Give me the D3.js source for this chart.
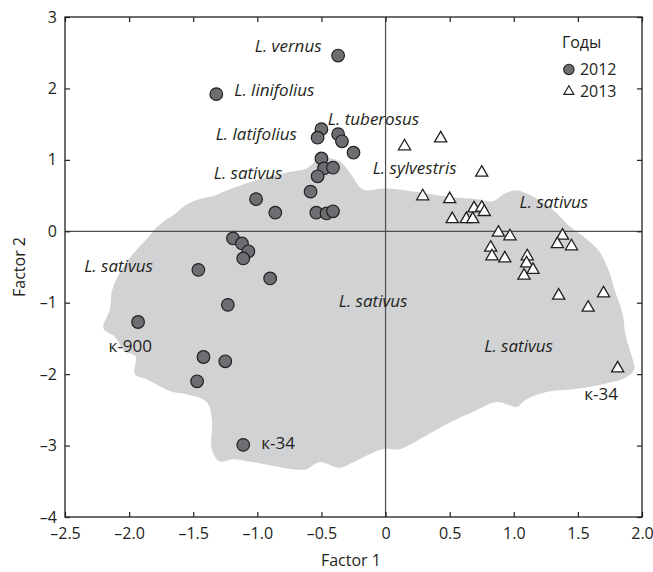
<!DOCTYPE html>
<html>
<head>
<meta charset="utf-8">
<script src="https://cdn.jsdelivr.net/npm/d3@7"></script>
<style>
  body { margin: 0; background: #fff; }
  svg text { font-family: "Open Sans", "Noto Sans", sans-serif; fill: #231f20; }
  .tick line { stroke: #231f20; stroke-width: 1.2; }
  .domain { display: none; }
</style>
</head>
<body>
<div id="chart"></div>
<script>
// 2012 accessions (Factor 1, Factor 2)
var f1_2012 = [-0.37, -1.32, -0.50, -0.53, -0.37, -0.34, -0.25, -0.50, -0.48, -0.41, -0.53, -0.585,
               -0.54, -0.46, -0.41, -1.01, -0.86, -1.19, -1.12, -1.07, -1.11, -1.46, -0.90,
               -1.23, -1.93, -1.42, -1.25, -1.47, -1.11];
var f2_2012 = [2.46, 1.92, 1.43, 1.31, 1.36, 1.26, 1.10, 1.02, 0.88, 0.89, 0.77, 0.555,
               0.26, 0.25, 0.28, 0.45, 0.26, -0.10, -0.17, -0.28, -0.38, -0.54, -0.66,
               -1.03, -1.27, -1.76, -1.82, -2.10, -2.99];

// 2013 accessions
var f1_2013 = [0.148, 0.43, 0.75, 0.29, 0.50, 0.69, 0.75, 0.77, 0.52, 0.63, 0.68, 0.88, 0.97,
               0.82, 0.83, 0.93, 1.38, 1.34, 1.45, 1.105, 1.10, 1.15, 1.08, 1.35, 1.70, 1.58, 1.81];
var f2_2013 = [1.19, 1.30, 0.82, 0.49, 0.45, 0.32, 0.33, 0.27, 0.17, 0.17, 0.17, -0.02, -0.07,
               -0.23, -0.35, -0.38, -0.06, -0.18, -0.21, -0.35, -0.45, -0.54, -0.62, -0.90, -0.87, -1.07, -1.92];

// grey area outline (Factor 1, Factor 2)
var areaF1 = [-0.515, -0.36, -0.26, -0.18, 0.01, 0.265, 0.52, 0.71, 0.835, 0.93, 1.02, 1.145, 1.30, 1.435,
              1.57, 1.67, 1.745, 1.785, 1.85, 1.87, 1.92, 1.94, 1.88, 1.72, 1.51, 1.255, 1.10, 1.02, 0.945,
              0.865, 0.68, 0.475, 0.265, 0.11, -0.025, -0.26, -0.36, -0.515, -0.615, -0.725, -1.04, -1.19,
              -1.295, -1.355, -1.355, -1.395, -1.55, -1.66, -1.865, -1.955, -1.95, -2.035, -2.115, -2.20,
              -2.15, -2.13, -2.02, -1.865, -1.76, -1.645, -1.55, -1.45, -1.35, -1.215, -0.98, -0.75, -0.615];
var areaF2 = [1.02, 0.98, 0.77, 0.59, 0.60, 0.545, 0.475, 0.45, 0.42, 0.53, 0.57, 0.49, 0.31, 0.07,
              -0.11, -0.29, -0.57, -0.81, -1.16, -1.44, -1.75, -1.93, -2.04, -2.13, -2.20, -2.25, -2.35, -2.46, -2.42,
              -2.39, -2.53, -2.70, -2.91, -3.05, -3.05, -3.24, -3.31, -3.23, -3.33, -3.33, -3.23, -3.19,
              -3.22, -3.05, -2.63, -2.39, -2.28, -2.25, -2.07, -2.00, -1.75, -1.68, -1.47, -1.36,
              -1.09, -0.81, -0.43, -0.11, 0.10, 0.24, 0.38, 0.45, 0.49, 0.59, 0.73, 0.83, 0.88];

// annotations: text, Factor 1 (left edge), Factor 2 (middle), italic?
var labelText = ["L. vernus", "L. linifolius", "L. latifolius", "L. sativus", "L. tuberosus", "L. sylvestris",
                 "L. sativus", "L. sativus", "L. sativus", "L. sativus", "к-900", "к-34", "к-34"];
var labelF1 = [-1.02, -1.18, -1.325, -1.34, -0.45, -0.10, 1.045, -2.35, -0.365, 0.77, -2.16, -0.97, 1.55];
var labelF2 = [2.60, 1.98, 1.36, 0.81, 1.57, 0.89, 0.41, -0.485, -0.975, -1.60, -1.60, -2.97, -2.28];
var labelItalic = [1, 1, 1, 1, 1, 1, 1, 1, 1, 1, 0, 0, 0];

var xTicks = [-2.5, -2.0, -1.5, -1.0, -0.5, 0, 0.5, 1.0, 1.5, 2.0];
var yTicks = [-4, -3, -2, -1, 0, 1, 2, 3];
var years = ["2012", "2013"];

var margin = {top: 17, right: 11, bottom: 55, left: 65},
    width = 653 - margin.left - margin.right,
    height = 572 - margin.top - margin.bottom;

var svg = d3.select("#chart").append("svg")
    .attr("width", 653).attr("height", 572)
  .append("g")
    .attr("transform", "translate(" + margin.left + "," + margin.top + ")");

var x = d3.scaleLinear().domain([-2.5, 2.0]).range([0, width]);
var y = d3.scaleLinear().domain([-4, 3]).range([height, 0]);

// grey area
var outline = areaF1.map(function(d, i) { return [d, areaF2[i]]; });
svg.append("path")
    .attr("d", d3.line().x(function(d) { return x(d[0]); }).y(function(d) { return y(d[1]); })
               .curve(d3.curveCatmullRomClosed.alpha(0.5))(outline))
    .attr("fill", "#d1d2d4");

// zero lines
svg.append("line").attr("x1", x(0)).attr("x2", x(0)).attr("y1", 0).attr("y2", height)
    .attr("stroke", "#4d4d4f").attr("stroke-width", 1.2);
svg.append("line").attr("x1", 0).attr("x2", width).attr("y1", y(0)).attr("y2", y(0))
    .attr("stroke", "#4d4d4f").attr("stroke-width", 1.2);

// axes (ticks inside, mirrored)
svg.append("g").attr("transform", "translate(0," + height + ")")
    .call(d3.axisBottom(x).tickValues(xTicks).tickSizeInner(-5).tickSizeOuter(0).tickPadding(11)
          .tickFormat(function(d) { return (d < 0 ? "\u2013" : "") + (d === 0 ? "0" : Math.abs(d).toFixed(1)); }))
    .selectAll("text").style("font-size", "16px");
svg.append("g")
    .call(d3.axisTop(x).tickValues(xTicks).tickSizeInner(-5).tickSizeOuter(0).tickFormat(""));
svg.append("g")
    .call(d3.axisLeft(y).tickValues(yTicks).tickSizeInner(-5).tickSizeOuter(0).tickPadding(8)
          .tickFormat(function(d) { return (d < 0 ? "\u2013" : "") + Math.abs(d); }))
    .selectAll("text").style("font-size", "16px");
svg.append("g").attr("transform", "translate(" + width + ",0)")
    .call(d3.axisRight(y).tickValues(yTicks).tickSizeInner(-5).tickSizeOuter(0).tickFormat(""));

svg.append("rect").attr("width", width).attr("height", height)
    .attr("fill", "none").attr("stroke", "#231f20").attr("stroke-width", 1.3);

// points
var tri = d3.symbol().type(d3.symbolTriangle).size(64);
svg.selectAll(".p13").data(f1_2013).enter().append("path")
    .attr("class", "p13")
    .attr("transform", function(d, i) { return "translate(" + x(d) + "," + y(f2_2013[i]) + ")"; })
    .attr("d", tri)
    .attr("fill", "#fff").attr("stroke", "#231f20").attr("stroke-width", 1.3);

svg.selectAll(".p12").data(f1_2012).enter().append("circle")
    .attr("class", "p12")
    .attr("cx", function(d) { return x(d); })
    .attr("cy", function(d, i) { return y(f2_2012[i]); })
    .attr("r", 6.3)
    .attr("fill", "#6d6e71").attr("stroke", "#231f20").attr("stroke-width", 1.2);

// annotations
svg.selectAll(".lab").data(labelText).enter().append("text")
    .attr("class", "lab")
    .attr("x", function(d, i) { return x(labelF1[i]); })
    .attr("y", function(d, i) { return y(labelF2[i]); })
    .attr("dy", "0.35em")
    .style("font-size", "17px")
    .style("font-style", function(d, i) { return labelItalic[i] ? "italic" : "normal"; })
    .text(function(d) { return d; });

// legend
var lg = svg.append("g").attr("transform", "translate(" + (x(1.5) - 16) + ",25)");
lg.append("text").attr("x", 0).attr("y", 0).attr("dy", "0.35em").style("font-size", "16px").text("Годы");
lg.append("circle").attr("cx", 7).attr("cy", 27.5).attr("r", 5.2)
    .attr("fill", "#6d6e71").attr("stroke", "#231f20").attr("stroke-width", 1.1);
lg.append("path").attr("transform", "translate(7,49.5)").attr("d", d3.symbol().type(d3.symbolTriangle).size(44))
    .attr("fill", "#fff").attr("stroke", "#231f20").attr("stroke-width", 1.1);
lg.selectAll(".yr").data(years).enter().append("text")
    .attr("x", 18).attr("y", function(d, i) { return 27.5 + i * 22; }).attr("dy", "0.35em")
    .style("font-size", "16px").text(function(d) { return d; });

// axis titles
svg.append("text").attr("x", x(-0.27)).attr("y", height + 49).attr("text-anchor", "middle")
    .style("font-size", "16px").text("Factor 1");
svg.append("text").attr("transform", "translate(-40," + y(-0.5) + ") rotate(-90)")
    .attr("text-anchor", "middle").style("font-size", "16px").text("Factor 2");
</script>
</body>
</html>
